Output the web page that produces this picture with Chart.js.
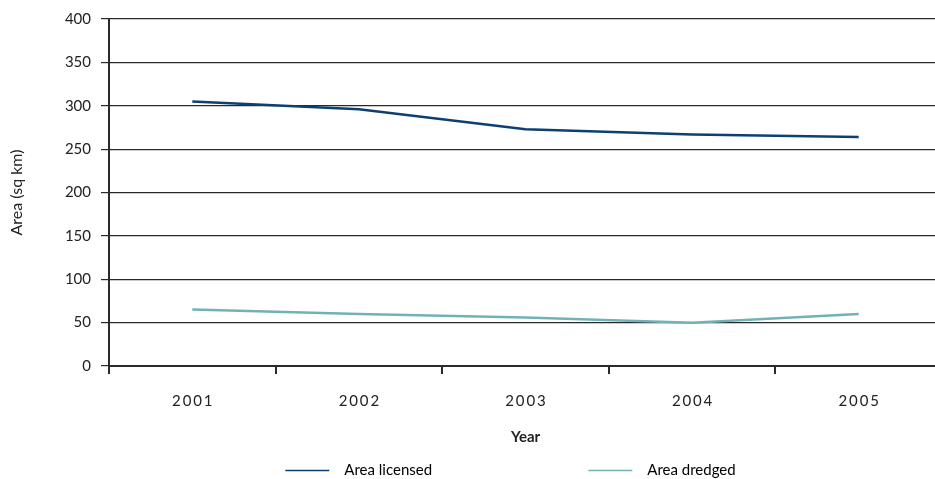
<!DOCTYPE html>
<html>
<head>
<meta charset="utf-8">
<script src="https://cdn.jsdelivr.net/npm/chart.js@4.4.1/dist/chart.umd.min.js"></script>
<style>
  html, body { margin: 0; padding: 0; background: #fff; overflow: hidden; }
  #wrap { width: 945px; height: 490px; }
</style>
</head>
<body>
<div id="wrap"><canvas id="chart"></canvas></div>
<script>
// Datos
const years = ['2001', '2002', '2003', '2004', '2005'];
const areaLicensed = [305, 296, 273, 267, 264];
const areaDredged = [65, 60, 56, 50, 60];
const yTicks = [0, 50, 100, 150, 200, 250, 300, 350, 400];

const FONT = 'Lato, "Open Sans", sans-serif';
const AXIS = '#2a2a2a';
const EM = '\u2003', EN = '\u2002', THIN = '\u2009';

const dataChart = new Chart(
    document.getElementById('chart'),
    {
    type: 'line',
    data: {
        labels: years,
        datasets: [
        {
            label: 'Area licensed',
            data: areaLicensed,
            borderColor: '#0d3f73',
            backgroundColor: '#0d3f73',
            borderWidth: 2.5,
            pointRadius: 0,
            tension: 0
        },
        {
            label: 'Area dredged',
            data: areaDredged,
            borderColor: '#72b2b7',
            backgroundColor: '#72b2b7',
            borderWidth: 2.5,
            pointRadius: 0,
            tension: 0
        }
        ]
    },
    options: {
        responsive: true,
        maintainAspectRatio: false,
        animation: false,
        layout: { padding: { left: 0, right: 3, top: 10, bottom: 2 } },
        plugins: {
            tooltip: { enabled: false },
            legend: {
                position: 'bottom',
                fullSize: false,
                labels: {
                    boxWidth: 44,
                    boxHeight: 1.5,
                    padding: 10,
                    color: '#222',
                    font: { family: FONT, size: 15 },
                    /* espacios para separar los items como en el original */
                    generateLabels: (chart) => chart.data.datasets.map((ds, i) => ({
                        text: EN + ds.label + (i === 0 ? EM.repeat(13) : EM + EM + EN),
                        fillStyle: ds.borderColor,
                        strokeStyle: ds.borderColor,
                        lineWidth: 0,
                        datasetIndex: i
                    }))
                }
            }
        },
        scales: {
            x: {
                offset: true,
                grid: {
                    offset: true,
                    drawOnChartArea: false,
                    drawTicks: true,
                    tickLength: 8,
                    color: AXIS,
                    lineWidth: 2
                },
                border: { display: true, color: AXIS, width: 2 },
                ticks: {
                    padding: 18,
                    color: '#222',
                    font: { family: FONT, size: 15 },
                    callback: function (v) { return this.getLabelForValue(v).split('').join(THIN); }
                },
                title: {
                    display: true,
                    text: 'Year',
                    color: '#222',
                    font: { family: FONT, size: 15, weight: 'bold' },
                    padding: { top: 14, bottom: 7 }
                },
                afterFit: (s) => { s.height = 87; }
            },
            y: {
                min: 0,
                max: 400,
                afterBuildTicks: (s) => { s.ticks = yTicks.map(v => ({ value: v })); },
                grid: {
                    color: AXIS,
                    lineWidth: 1.2,
                    tickLength: 8
                },
                border: { display: true, color: AXIS, width: 2 },
                ticks: {
                    padding: 10,
                    color: '#222',
                    font: { family: FONT, size: 15 }
                },
                title: {
                    display: true,
                    text: 'Area (sq km)',
                    color: '#222',
                    font: { family: FONT, size: 16 },
                    padding: { top: 7, bottom: 14 }
                },
                afterFit: (s) => { s.width = 109; }
            }
        }
    }
    }
);
</script>
</body>
</html>
